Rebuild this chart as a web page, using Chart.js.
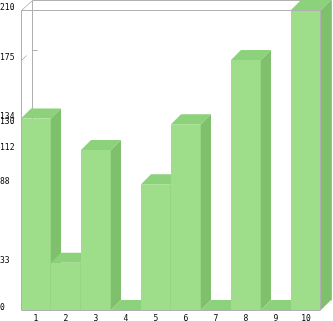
<!DOCTYPE html>
<html lang="en">
<head>
    <meta charset="UTF-8">
    <title>3D Bar</title>
    <script src="https://cdn.jsdelivr.net/npm/chart.js"></script>
    <style>
        body { margin: 0; padding: 0; background: #fff; }
        #wrap { width: 333px; height: 321px; }
    </style>
</head>
<body>
    <div id="wrap"><canvas id="barChart"></canvas></div>
    <script>
        // data
        const categories = ['1', '2', '3', '4', '5', '6', '7', '8', '9', '10'];
        const values = [134, 33, 112, 0, 88, 130, 0, 175, 0, 210];
        const yTicks = [0, 33, 88, 112, 130, 134, 175, 210];

        const DEPTH = 10;
        const FRONT = '#9ede8a';
        const TOP = '#8bd27a';
        const SIDE = '#7ec06b';
        const LINE = '#b0b0b0';

        // back wall + top/side faces, drawn before the fronts
        const depthPlugin = {
            id: 'depth3d',
            beforeDatasetsDraw(chart) {
                const ctx = chart.ctx;
                const a = chart.chartArea;
                const yScale = chart.scales.y;
                ctx.save();
                ctx.strokeStyle = LINE;
                ctx.lineWidth = 1;
                ctx.beginPath();
                ctx.moveTo(a.left + 0.5, a.top + 0.5);
                ctx.lineTo(a.left + DEPTH + 1.5, a.top - DEPTH + 0.5);
                ctx.lineTo(a.right + DEPTH + 0.5, a.top - DEPTH + 0.5);
                ctx.lineTo(a.right + DEPTH + 0.5, a.bottom - DEPTH + 0.5);
                ctx.moveTo(a.left + DEPTH + 1.5, a.top - DEPTH + 0.5);
                ctx.lineTo(a.left + DEPTH + 1.5, a.bottom - DEPTH + 0.5);
                ctx.stroke();
                // small grid marks on the walls
                yTicks.forEach(v => {
                    const py = Math.round(yScale.getPixelForValue(v));
                    if (v === 0 || v === yScale.max) return;
                    ctx.beginPath();
                    ctx.moveTo(a.left + 0.5, py + 0.5);
                    ctx.lineTo(a.left + 5.5, py - 4.5);
                    ctx.moveTo(a.left + DEPTH + 1.5, py - DEPTH + 0.5);
                    ctx.lineTo(a.left + DEPTH + 6.5, py - DEPTH + 0.5);
                    ctx.stroke();
                });
                const meta = chart.getDatasetMeta(0);
                meta.data.forEach(bar => {
                    const p = bar.getProps(['x', 'y', 'base', 'width'], true);
                    const l = p.x - p.width / 2, r = p.x + p.width / 2;
                    ctx.fillStyle = TOP;
                    ctx.beginPath();
                    ctx.moveTo(l, p.y);
                    ctx.lineTo(l + DEPTH, p.y - DEPTH);
                    ctx.lineTo(r + DEPTH, p.y - DEPTH);
                    ctx.lineTo(r, p.y);
                    ctx.closePath();
                    ctx.fill();
                    ctx.fillStyle = SIDE;
                    ctx.beginPath();
                    ctx.moveTo(r, p.y);
                    ctx.lineTo(r + DEPTH, p.y - DEPTH);
                    ctx.lineTo(r + DEPTH, p.base - DEPTH);
                    ctx.lineTo(r, p.base);
                    ctx.closePath();
                    ctx.fill();
                });
                ctx.restore();
            },
            afterDatasetsDraw(chart) {
                const ctx = chart.ctx;
                const a = chart.chartArea;
                ctx.save();
                ctx.strokeStyle = LINE;
                ctx.lineWidth = 1;
                ctx.beginPath();
                ctx.moveTo(a.left + 0.5, a.top + 0.5);
                ctx.lineTo(a.right - 0.5, a.top + 0.5);
                ctx.lineTo(a.right - 0.5, a.bottom + 0.5);
                ctx.moveTo(a.left + 0.5, a.top + 0.5);
                ctx.lineTo(a.left + 0.5, a.bottom + 0.5);
                ctx.lineTo(a.right - 0.5, a.bottom + 0.5);
                ctx.stroke();
                ctx.restore();
            }
        };

        new Chart(document.getElementById('barChart'), {
            type: 'bar',
            data: {
                labels: categories,
                datasets: [{
                    data: values,
                    backgroundColor: FRONT,
                    borderColor: '#92d37f',
                    borderWidth: { left: 0, right: 1, top: 0, bottom: 0 },
                    borderSkipped: false,
                    categoryPercentage: 1,
                    barPercentage: 1
                }]
            },
            options: {
                responsive: true,
                maintainAspectRatio: false,
                animation: false,
                layout: { padding: { top: 10, right: 12, left: 0, bottom: 0 } },
                plugins: { legend: { display: false }, tooltip: { enabled: false } },
                scales: {
                    x: {
                        grid: { display: false, drawTicks: false },
                        border: { display: false },
                        ticks: { color: '#000', font: { family: 'DejaVu Sans Mono', size: 8 }, padding: 4, maxRotation: 0 },
                        afterFit: s => { s.height = 11; }
                    },
                    y: {
                        min: 0,
                        max: 210,
                        grid: { display: false, drawTicks: false },
                        border: { display: false },
                        afterBuildTicks: s => { s.ticks = yTicks.map(v => ({ value: v })); },
                        ticks: {
                            color: '#000',
                            autoSkip: false,
                            crossAlign: 'far',
                            labelOffset: -2,
                            font: { family: 'DejaVu Sans Mono', size: 8 }
                        },
                        afterFit: s => { s.width = 21; }
                    }
                }
            },
            plugins: [depthPlugin]
        });
    </script>
</body>
</html>
